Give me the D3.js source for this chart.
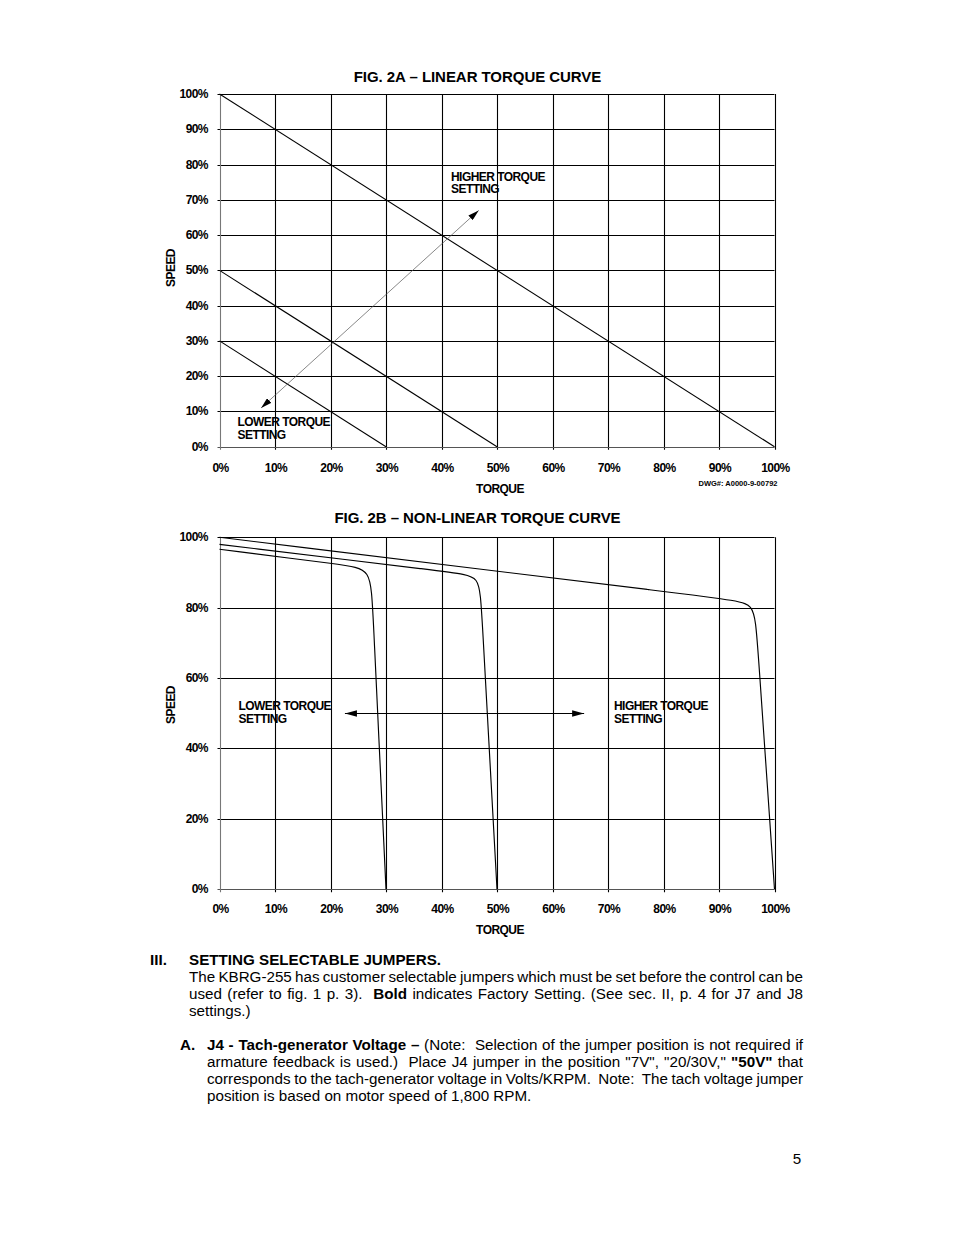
<!DOCTYPE html>
<html><head><meta charset="utf-8">
<script src="https://cdn.jsdelivr.net/npm/d3@7"></script>
<style>body{margin:0;background:#fff}svg{display:block}</style>
</head><body>
<script>
// ---------------- DATA ----------------
const torqueTicks = [0,10,20,30,40,50,60,70,80,90,100];
const speedTicksA = [0,10,20,30,40,50,60,70,80,90,100];
const speedTicksB = [0,20,40,60,80,100];
const fmtPct = d => d + "%";

// Fig 2A: linear torque curves [torque %, speed %]
const linearCurves = [
  [[0,100],[100,0]],
  [[0,50],[50,0]],
  [[0,30],[30,0]]
];
const linearArrow = [[7.5,11],[46.7,67]];

// Fig 2B: non-linear torque curves (spline control points) [torque %, speed %]
const nonLinearCurves = [
  [[0,96.6],[22.5,92.1],[27.3,91.1],[27.6,80],[30,0]],
  [[0,98],[42.5,89.9],[46.9,89.1],[47.2,80],[50,0]],
  [[0,100],[91.5,82.4],[96.4,81.5],[96.85,72],[100,0]]
];
const nonLinearArrow = [[22.6,50],[65.7,50]];

const titles = ["FIG. 2A \u2013 LINEAR TORQUE CURVE", "FIG. 2B \u2013 NON-LINEAR TORQUE CURVE"];
const drawingNo = "DWG#: A0000-9-00792";

const heading = ["III.", "SETTING SELECTABLE JUMPERS."];
const para1 = [
  "The KBRG-255 has customer selectable jumpers which must be set before the control can be",
  "used (refer to fig. 1 p. 3).  *Bold* indicates Factory Setting. (See sec. II, p. 4 for J7 and J8",
  "settings.)"
];
const para2Label = "A.";
const para2 = [
  "*J4 - Tach-generator Voltage \u2013* (Note:  Selection of the jumper position is not required if",
  "armature feedback is used.)  Place J4 jumper in the position \"7V\", \"20/30V,\" *\"50V\"* that",
  "corresponds to the tach-generator voltage in Volts/KRPM.  Note:  The tach voltage jumper",
  "position is based on motor speed of 1,800 RPM."
];
const pageNumber = "5";

// ---------------- DRAW ----------------
const W = 954, H = 1235;
const FONT = "'Liberation Sans', Arial, Helvetica, sans-serif";
const svg = d3.select("body").append("svg").attr("width", W).attr("height", H)
  .attr("font-family", FONT);

const defs = svg.append("defs");
function marker(id, len, half) {
  defs.append("marker").attr("id", id)
    .attr("viewBox", `0 ${-half} ${len} ${2*half}`)
    .attr("refX", len).attr("refY", 0)
    .attr("markerUnits", "userSpaceOnUse")
    .attr("markerWidth", len).attr("markerHeight", 2*half)
    .attr("orient", "auto-start-reverse")
    .append("path").attr("d", `M0,${-half}L${len},0L0,${half}Z`).attr("fill", "#000");
}
marker("headA", 11, 3.2);
marker("headB", 12, 3.3);

function chart(cfg) {
  const x = d3.scaleLinear().domain([0,100]).range([219.5, 774.5]);
  const y = d3.scaleLinear().domain([0,100]).range([cfg.y0, cfg.y100]);
  const g = svg.append("g");

  // grid
  g.append("g").selectAll("line.v").data(torqueTicks.filter(d => d > 0)).join("line")
    .attr("x1", d => Math.round(x(d)) + 0.5).attr("x2", d => Math.round(x(d)) + 0.5)
    .attr("y1", y(100)).attr("y2", y(0) + 3)
    .attr("stroke", "#000").attr("stroke-width", 1.1);
  g.append("g").selectAll("line.h").data(cfg.yTicks.filter(d => d > 0)).join("line")
    .attr("x1", x(0) - 2).attr("x2", x(100))
    .attr("y1", d => Math.round(y(d)) + 0.5).attr("y2", d => Math.round(y(d)) + 0.5)
    .attr("stroke", "#000").attr("stroke-width", 1.1);
  // x axis baseline and left axis
  g.append("line").attr("x1", x(0) - 2).attr("x2", x(100))
    .attr("y1", Math.round(y(0)) + 0.5).attr("y2", Math.round(y(0)) + 0.5)
    .attr("stroke", "#555").attr("stroke-width", 1.1);
  g.append("line").attr("x1", Math.round(x(0)) + 0.5).attr("x2", Math.round(x(0)) + 0.5)
    .attr("y1", y(100)).attr("y2", y(0) + 3)
    .attr("stroke", "#777").attr("stroke-width", 1.1);

  // tick labels
  const tickStyle = sel => sel.attr("font-size", 12).attr("font-weight", "bold")
    .attr("letter-spacing", -0.55).attr("fill", "#000");
  g.append("g").selectAll("text").data(cfg.yTicks).join("text")
    .attr("x", 208).attr("y", d => y(d) + 4).attr("text-anchor", "end")
    .text(fmtPct).call(tickStyle);
  g.append("g").selectAll("text").data(torqueTicks).join("text")
    .attr("x", d => x(d) + 1).attr("y", cfg.xLabelY).attr("text-anchor", "middle")
    .text(fmtPct).call(tickStyle);

  // axis titles
  g.append("text").attr("x", 500).attr("y", cfg.xTitleY).attr("text-anchor", "middle")
    .text("TORQUE").call(tickStyle);
  g.append("text").attr("transform", `translate(175,${cfg.speedY}) rotate(-90)`)
    .attr("text-anchor", "middle").text("SPEED").call(tickStyle);

  // title
  svg.append("text").attr("x", 477.5).attr("y", cfg.titleY).attr("text-anchor", "middle")
    .attr("font-size", 15).attr("font-weight", "bold").attr("letter-spacing", -0.05)
    .text(cfg.title);

  // labels
  cfg.labels.forEach(l => {
    const t = g.append("text").attr("x", l.x).attr("y", l.y).call(tickStyle);
    t.append("tspan").attr("x", l.x).text(l.lines[0]);
    t.append("tspan").attr("x", l.x).attr("dy", l.dy).text(l.lines[1]);
  });
  return {g, x, y};
}

// Fig 2A
const A = chart({
  y0: 446.7, y100: 94, yTicks: speedTicksA, xLabelY: 471.5, xTitleY: 492.5, speedY: 268,
  titleY: 82, title: titles[0],
  labels: [
    {x: 451, y: 180.7, dy: 12, lines: ["HIGHER TORQUE", "SETTING"]},
    {x: 237.5, y: 426, dy: 13.3, lines: ["LOWER TORQUE", "SETTING"]}
  ]
});
const lineA = d3.line().x(d => A.x(d[0])).y(d => A.y(d[1]));
A.g.append("g").selectAll("path").data(linearCurves).join("path")
  .attr("d", lineA).attr("fill", "none").attr("stroke", "#000").attr("stroke-width", 1.1);
A.g.append("path").attr("d", lineA(linearArrow)).attr("fill", "none")
  .attr("stroke", "#555").attr("stroke-width", 0.7)
  .attr("marker-start", "url(#headA)").attr("marker-end", "url(#headA)");
svg.append("text").attr("x", 698.5).attr("y", 486).attr("font-size", 8)
  .attr("font-weight", "bold").attr("textLength", 79).attr("lengthAdjust", "spacingAndGlyphs")
  .text(drawingNo);

// Fig 2B
const B = chart({
  y0: 889.2, y100: 537.3, yTicks: speedTicksB, xLabelY: 913, xTitleY: 933.5, speedY: 705,
  titleY: 523, title: titles[1],
  labels: [
    {x: 238.5, y: 709.5, dy: 13.5, lines: ["LOWER TORQUE", "SETTING"]},
    {x: 614, y: 709.5, dy: 13.5, lines: ["HIGHER TORQUE", "SETTING"]}
  ]
});
const lineB = d3.line().x(d => B.x(d[0])).y(d => B.y(d[1])).curve(d3.curveBasis);
B.g.append("g").selectAll("path").data(nonLinearCurves).join("path")
  .attr("d", lineB).attr("fill", "none").attr("stroke", "#000").attr("stroke-width", 1.15);
const lineBs = d3.line().x(d => B.x(d[0])).y(d => Math.round(B.y(d[1])) + 0.5);
B.g.append("path").attr("d", lineBs(nonLinearArrow)).attr("fill", "none")
  .attr("stroke", "#000").attr("stroke-width", 1)
  .attr("marker-start", "url(#headB)").attr("marker-end", "url(#headB)");

// ---------------- TEXT BLOCK ----------------
const FS = 15.2;
const tg = svg.append("g").attr("font-size", FS).attr("fill", "#000");
const spaceW = 0.278 * FS;

function textLine(str, x0, x1, baseline, justify) {
  // tokens with bold toggling via '*'
  const parts = str.split(" ");
  const tokens = [];
  let bold = false, pendingSpaces = 0;
  parts.forEach((p, i) => {
    if (p === "") { pendingSpaces++; return; }
    let w = p, b0 = bold;
    if (w.startsWith("*")) { bold = !bold; w = w.slice(1); b0 = bold; }
    let endToggle = false;
    if (w.endsWith("*")) { endToggle = true; w = w.slice(0, -1); }
    tokens.push({w, bold: b0, spaces: tokens.length ? pendingSpaces + 1 : 0});
    pendingSpaces = 0;
    if (endToggle) bold = !bold;
  });
  tokens.forEach(t => {
    t.el = tg.append("text").attr("y", baseline)
      .attr("font-weight", t.bold ? "bold" : "normal").text(t.w);
    t.len = t.el.node().getComputedTextLength();
  });
  const totalWords = d3.sum(tokens, t => t.len);
  const totalSpaces = d3.sum(tokens, t => t.spaces);
  let unit = spaceW;
  if (justify && totalSpaces > 0) unit = Math.max(2, (x1 - x0 - totalWords) / totalSpaces);
  let cx = x0;
  tokens.forEach(t => {
    cx += t.spaces * unit;
    t.el.attr("x", cx);
    cx += t.len;
  });
}

tg.append("text").attr("x", 150).attr("y", 965).attr("font-weight", "bold").text(heading[0]);
tg.append("text").attr("x", 189).attr("y", 965).attr("font-weight", "bold").text(heading[1]);
para1.forEach((s, i) => textLine(s, 189, 803, 982 + i * 17, i < para1.length - 1));
tg.append("text").attr("x", 180).attr("y", 1050).attr("font-weight", "bold").text(para2Label);
para2.forEach((s, i) => textLine(s, 207, 803, 1050 + i * 17, i < para2.length - 1));
tg.append("text").attr("x", 797).attr("y", 1164).attr("text-anchor", "middle").text(pageNumber);
</script>
</body></html>
